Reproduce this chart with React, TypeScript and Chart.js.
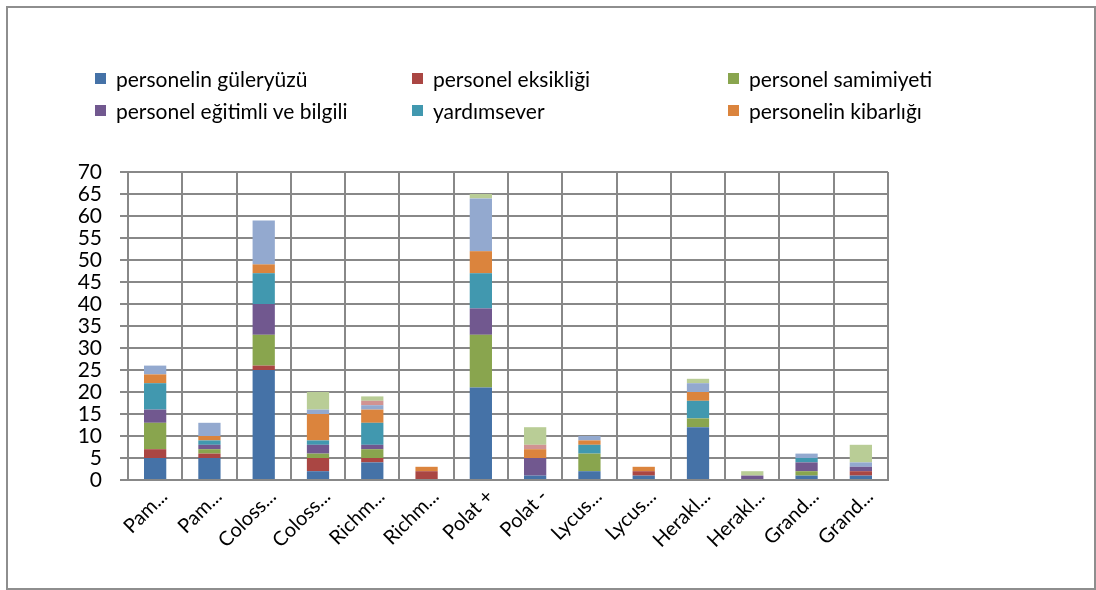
import React, { useEffect, useRef } from "react";
import { Chart, registerables } from "chart.js";

Chart.register(...registerables);

const categories = [
  "Pam...", "Pam...", "Coloss...", "Coloss...", "Richm...", "Richm...",
  "Polat +", "Polat -", "Lycus...", "Lycus...", "Herakl...", "Herakl...", "Grand...", "Grand...",
];

const seriesNames = [
  "personelin güleryüzü",
  "personel eksikliği",
  "personel samimiyeti",
  "personel eğitimli ve bilgili",
  "yardımsever",
  "personelin kibarlığı",
  "seri 7",
  "seri 8",
  "seri 9",
];

const guleryuzu = [5, 5, 25, 2, 4, 0, 21, 1, 2, 1, 12, 0, 1, 1];
const eksikligi = [2, 1, 1, 3, 1, 2, 0, 0, 0, 1, 0, 0, 0, 1];
const samimiyeti = [6, 1, 7, 1, 2, 0, 12, 0, 4, 0, 2, 0, 1, 0];
const egitimli = [3, 1, 7, 2, 1, 0, 6, 4, 0, 0, 0, 1, 2, 1];
const yardimsever = [6, 1, 7, 1, 5, 0, 8, 0, 2, 0, 4, 0, 1, 0];
const kibarligi = [2, 1, 2, 6, 3, 1, 5, 2, 1, 1, 2, 0, 0, 0];
const seri7 = [2, 3, 10, 1, 1, 0, 12, 0, 1, 0, 2, 0, 1, 1];
const seri8 = [0, 0, 0, 0, 1, 0, 0, 1, 0, 0, 0, 0, 0, 0];
const seri9 = [0, 0, 0, 4, 1, 0, 1, 4, 0, 0, 1, 1, 0, 4];

const seriesValues = [guleryuzu, eksikligi, samimiyeti, egitimli, yardimsever, kibarligi, seri7, seri8, seri9];

const colors = ["#4572A7", "#AA4643", "#89A54E", "#71588F", "#4198AF", "#DB843D", "#93A9CF", "#D19392", "#B9CD96"];

const yTickStep = 5;
const yMax = 70;

const FONT = "Lato, 'Open Sans', sans-serif";

const legendCols = [87, 404, 720];
const legendRows = [64, 96];

const rotatedLabels = {
  id: "rotatedLabels",
  afterDraw(chart: any) {
    const ctx = chart.ctx;
    const xs = chart.scales.x;
    const bottom = chart.chartArea.bottom;
    ctx.save();
    ctx.fillStyle = "#000";
    ctx.font = `20px ${FONT}`;
    ctx.textAlign = "right";
    ctx.textBaseline = "middle";
    categories.forEach((lab, i) => {
      const x = xs.getPixelForValue(i);
      ctx.save();
      ctx.translate(x + 9, bottom + 13);
      ctx.rotate(-Math.PI / 4);
      ctx.fillText(lab, 0, 0);
      ctx.restore();
    });
    ctx.restore();
  },
};

export default function App() {
  const ref = useRef<HTMLCanvasElement | null>(null);

  useEffect(() => {
    if (!ref.current) return;
    const chart = new Chart(ref.current, {
      type: "bar",
      data: {
        labels: categories,
        datasets: seriesValues.map((vals, i) => ({
          label: seriesNames[i],
          data: vals,
          backgroundColor: colors[i],
          borderWidth: 0,
          barPercentage: 0.41,
          categoryPercentage: 1,
        })),
      },
      plugins: [rotatedLabels],
      options: {
        animation: false,
        responsive: false,
        maintainAspectRatio: false,
        layout: { padding: { left: 0, top: 164, right: 206, bottom: 0 } },
        plugins: { legend: { display: false }, tooltip: { enabled: false } },
        scales: {
          x: {
            stacked: true,
            afterFit: (s: any) => { s.height = 108; },
            grid: { color: "#888888", lineWidth: 2, drawTicks: false, offset: true },
            border: { color: "#888888", width: 2 },
            ticks: { display: false },
          },
          y: {
            stacked: true,
            min: 0,
            max: yMax,
            afterFit: (s: any) => { s.width = 120; },
            grid: { color: "#888888", lineWidth: 2, tickLength: 8 },
            border: { color: "#888888", width: 2 },
            ticks: {
              stepSize: yTickStep,
              autoSkip: false,
              color: "#000",
              font: { family: FONT, size: 21 },
              padding: 18,
            },
          },
        },
      },
    });
    return () => chart.destroy();
  }, []);

  return (
    <div
      style={{
        position: "fixed",
        left: 6,
        top: 6,
        width: 1090,
        height: 584,
        boxSizing: "border-box",
        border: "2px solid #8e8e8e",
        background: "#fff",
      }}
    >
      <canvas ref={ref} width={1086} height={580} style={{ position: "absolute", left: 0, top: 0 }} />
      {seriesNames.slice(0, 6).map((name, i) => (
        <div
          key={name}
          style={{
            position: "absolute",
            left: legendCols[i % 3],
            top: legendRows[Math.floor(i / 3)] - 7,
            height: 26,
            display: "flex",
            alignItems: "center",
            fontFamily: FONT,
            fontSize: 21,
            color: "#000",
            whiteSpace: "nowrap",
          }}
        >
          <span style={{ display: "inline-block", width: 11, height: 11, background: colors[i], marginRight: 10 }} />
          <span>{name}</span>
        </div>
      ))}
    </div>
  );
}
